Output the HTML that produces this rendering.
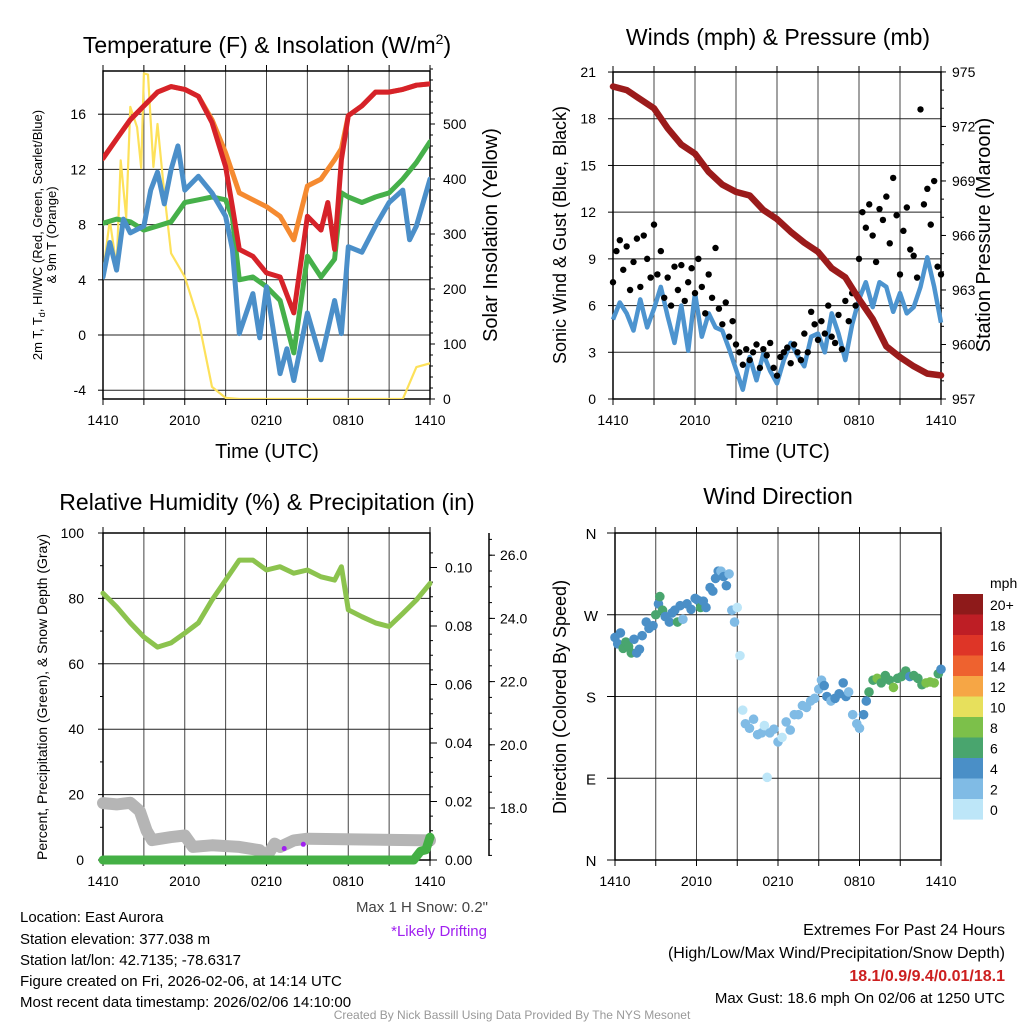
<!DOCTYPE html>
<html><head><meta charset="utf-8">
<style>
html,body{margin:0;padding:0;background:#fff;}
svg{display:block;font-family:"Liberation Sans",Arial,sans-serif;}
</style></head>
<body>
<svg id="c" width="1024" height="1024" viewBox="0 0 1024 1024">
  <text x="267" y="53" font-size="23" text-anchor="middle">Temperature (F) &amp; Insolation (W/m<tspan font-size="14" dy="-9">2</tspan><tspan dy="9">)</tspan></text>
  <text x="778" y="45" font-size="23" text-anchor="middle">Winds (mph) &amp; Pressure (mb)</text>
  <text x="267" y="510" font-size="23" text-anchor="middle">Relative Humidity (%) &amp; Precipitation (in)</text>
  <text x="778" y="504" font-size="23" text-anchor="middle">Wind Direction</text>

  <text transform="translate(42,235) rotate(-90)" font-size="13" text-anchor="middle">2m T, T<tspan font-size="9" dy="3">d</tspan><tspan dy="-3">, HI/WC (Red, Green, Scarlet/Blue)</tspan></text>
  <text transform="translate(56,235) rotate(-90)" font-size="13" text-anchor="middle">&amp; 9m T (Orange)</text>
  <text transform="translate(497,235) rotate(-90)" font-size="20" text-anchor="middle">Solar Insolation (Yellow)</text>
  <text x="267" y="458" font-size="20" text-anchor="middle">Time (UTC)</text>
  <text transform="translate(566,235) rotate(-90)" font-size="18" text-anchor="middle">Sonic Wind &amp; Gust (Blue, Black)</text>
  <text transform="translate(990,235) rotate(-90)" font-size="20" text-anchor="middle">Station Pressure (Maroon)</text>
  <text x="778" y="458" font-size="20" text-anchor="middle">Time (UTC)</text>
  <text transform="translate(47,697) rotate(-90)" font-size="14" text-anchor="middle">Percent, Precipitation (Green), &amp; Snow Depth (Gray)</text>
  <text transform="translate(566,697) rotate(-90)" font-size="18" text-anchor="middle">Direction (Colored By Speed)</text>

  <g font-size="15">
    <text x="20" y="922">Location: East Aurora</text>
    <text x="20" y="944">Station elevation: 377.038 m</text>
    <text x="20" y="965">Station lat/lon: 42.7135; -78.6317</text>
    <text x="20" y="986">Figure created on Fri, 2026-02-06, at 14:14 UTC</text>
    <text x="20" y="1007">Most recent data timestamp: 2026/02/06 14:10:00</text>
  </g>
  <text x="488" y="912" font-size="15" text-anchor="end" fill="#444">Max 1 H Snow: 0.2"</text>
  <text x="487" y="936" font-size="15" text-anchor="end" fill="#a020f0">*Likely Drifting</text>
  <g font-size="16" text-anchor="end">
    <text x="1005" y="935">Extremes For Past 24 Hours</text>
    <text x="1005" y="958">(High/Low/Max Wind/Precipitation/Snow Depth)</text>
    <text x="1005" y="981" fill="#cc1f1f" font-weight="bold">18.1/0.9/9.4/0.01/18.1</text>
    <text x="1005" y="1003" font-size="15">Max Gust: 18.6 mph On 02/06 at 1250 UTC</text>
  </g>
  <text x="512" y="1019" font-size="12" text-anchor="middle" fill="#999">Created By Nick Bassill Using Data Provided By The NYS Mesonet</text>
  <g id="layer"></g>
</svg>
<script>
const xTickHours = [0, 6, 12, 18, 24];
const xTickLabels = ["1410", "2010", "0210", "0810", "1410"];

const redHours = [0,1,2,3,4,5,6,7,8,9,9.5,10,11,12,13,14,15,16,16.5,17,17.5,18,19,20,21,22,23,24];
const redTemp  = [12.8,14.2,15.6,16.6,17.6,18.0,17.8,17.3,15.4,12.2,9.3,6.2,5.7,4.5,4.2,1.6,8.6,7.6,9.6,6.2,12.7,15.9,16.6,17.6,17.6,17.8,18.1,18.2];
const orangeHours = [0,1,2,3,4,5,6,7,8,9,10,11,12,13,14,15,16,17,17.5,18,19,20,21,22,23,24];
const orangeTemp  = [12.8,14.2,15.6,16.6,17.6,18.0,17.8,17.3,15.6,13.2,10.3,9.8,9.3,8.6,6.9,10.8,11.3,12.7,13.5,15.9,16.6,17.6,17.6,17.8,18.1,18.2];
const greenHours = [0,1,2,3,4,5,6,7,8,9,9.5,10,11,12,13,14,15,16,17,17.5,18,19,20,21,22,23,24];
const greenTemp  = [8.1,8.4,8.2,7.6,7.9,8.2,9.6,9.8,10.0,9.8,8.5,4.0,4.2,3.5,2.5,-1.3,5.7,4.2,5.5,10.3,10.0,9.6,10.0,10.3,11.3,12.5,14.0];
const blueHours = [0,0.5,1,1.5,2,3,3.5,4,4.5,5,5.5,6,7,8,9,9.5,10,11,11.5,12,13,13.5,14,15,16,17,17.5,18,19,20,21,22,22.5,23,24];
const blueTemp  = [4.2,6.7,4.7,8.4,7.4,7.9,10.5,11.8,9.5,12.0,13.7,10.5,11.5,10.3,8.6,6.2,0.1,3.0,-0.2,3.5,-2.8,-1.0,-3.3,1.6,-1.8,2.5,0.1,6.4,6.0,7.9,9.6,10.5,6.9,7.9,11.3];
const solarHours = [0,0.5,1,1.3,1.7,2,2.5,2.8,3,3.3,3.7,4,4.5,5,6,7,8,9,10,22,23,24];
const solarVals  = [229,325,240,434,330,531,494,420,592,590,422,500,374,265,222,144,22,2,0,0,58,65];
const tempTicks = [16,12,8,4,0,-4];
const solarTicks = [0,100,200,300,400,500];

const pressHours = [0,1,2,3,4,5,6,7,8,9,10,11,12,13,14,15,16,17,18,19,20,21,22,23,24];
const pressVals  = [974.2,974.0,973.5,973.0,971.9,971.0,970.5,969.5,968.8,968.4,968.2,967.4,966.9,966.2,965.6,965.1,964.2,963.7,962.5,961.4,959.9,959.3,958.8,958.4,958.3];
const windHours = [0,0.5,1,1.5,2,2.5,3,3.5,4,4.5,5,5.5,6,6.5,7,7.5,8,8.5,9,9.5,10,10.5,11,11.5,12,12.5,13,13.5,14,14.5,15,15.5,16,16.5,17,17.5,18,18.5,19,19.5,20,20.5,21,21.5,22,22.5,23,23.5,24];
const windVals  = [5.1,6.2,5.5,4.4,6.4,4.6,5.8,7.2,5.3,3.6,6.0,3.1,6.8,4.0,5.5,4.6,4.4,3.2,1.9,0.6,2.7,1.2,2.9,1.8,1.0,2.5,3.6,2.8,2.1,4.0,4.2,3.0,5.5,4.2,2.5,4.8,6.4,7.5,5.9,7.5,7.2,5.6,6.8,5.5,5.9,7.2,9.1,7.2,4.9];
const gustVals = [7.5,9.5,10.2,8.3, 9.8,7.0,8.8,10.3, 7.2,10.5,9.0,7.8, 11.2,8.0,9.5,6.5, 7.8,6.0,8.5,7.0, 8.6,6.3,7.5,8.4, 6.8,9.0,7.2,5.5, 8.0,6.5,9.7,5.8, 4.8,6.2,4.0,5.0, 3.5,3.0,2.2,3.2, 2.5,3.0,3.5,2.0, 3.2,2.8,3.6,2.0, 1.5,2.7,3.0,3.3, 2.3,3.5,3.0,2.5, 4.2,3.0,5.6,4.8, 3.8,5.0,4.2,6.0, 4.0,3.6,5.4,3.2, 6.3,5.0,6.8,6.0, 9.0,12.0,11.0,12.5, 10.5,8.8,12.2,11.5, 13.0,10.0,14.2,11.8, 8.0,10.8,12.3,9.6, 9.2,7.8,18.6,12.5, 13.5,11.2,14.0,8.5, 8.0];
const windTicks = [0,3,6,9,12,15,18,21];
const pressTicks = [957,960,963,966,969,972,975];

const rhHours = [0,1,2,3,4,5,6,7,8,9,10,11,12,13,14,15,16,17,17.5,18,19,20,21,22,23,24];
const rhVals  = [81.6,77.4,72.5,68.2,65.1,66.4,69.4,72.5,79.5,85.6,91.7,91.7,88.7,89.7,87.7,88.7,86.6,85.6,89.7,76.5,74.4,72.5,71.4,75.4,79.5,84.6];
const snowHours = [0,1,2,2.7,3.2,3.6,5,6,6.6,8,10,11.5,12,12.6,13,14,15,24];
const snowVals  = [17.4,17.0,17.5,15.0,9.0,6.1,7.0,7.5,4.0,4.5,4.0,3.0,1.0,5.0,4.0,6.0,6.5,6.0];
const precipHours = [0,22.8,23.3,23.7,24];
const precipVals  = [0,0,0.003,0.0035,0.0078];
const driftHours = [13.3,14.7];
const driftVals = [3.5,4.8];
const rhTicks = [0,20,40,60,80,100];
const precipTicks = [0,0.02,0.04,0.06,0.08,0.10];
const snowTicks = [18,20,22,24,26];

const dirHours = [0,0.2,0.4,0.6,0.8,1,1.2,1.4,1.6,1.8,2,2.3,2.5,2.8,3,3.2,3.3,3.5,3.7,4,4.2,4.4,4.6,4.8,5,5.3,5.6,5.9,6.1,6.3,6.5,6.7,7,7.2,7.4,7.6,7.8,8,8.2,8.4,8.6,8.8,9,9.2,9.4,9.6,9.9,10.2,10.5,10.8,11,11.2,11.4,11.7,12,12.3,12.6,12.9,13.2,13.5,13.8,14.1,14.4,14.7,15,15.2,15.4,15.6,15.9,16.2,16.5,16.8,17,17.2,17.5,17.8,18,18.3,18.5,18.7,19,19.3,19.6,19.9,20.2,20.5,20.8,21.1,21.4,21.7,22,22.3,22.6,22.9,23.2,23.5,23.8,24];
const dirDeg = [245,238,250,233,240,235,228,243,228,232,247,262,255,258,270,282,290,275,268,262,272,275,262,280,265,282,276,288,286,278,285,278,300,296,310,318,318,312,302,315,275,262,278,225,165,150,145,155,138,140,148,91,140,144,130,135,152,143,160,160,170,168,175,178,188,198,192,180,175,178,183,195,180,185,160,150,145,160,175,185,198,200,195,203,198,190,200,202,208,202,203,200,193,195,196,195,205,210];
const dirSpeed = [5,5,5,7,7,7,7,5,5,5,5,5,5,5,7,5,7,7,5,5,5,5,7,5,3,5,5,5,5,7,5,5,5,5,5,5,3,5,5,3,3,3,1,1,1,3,3,3,3,3,1,1,3,3,3,1,3,3,3,3,3,3,3,3,3,3,5,5,3,5,5,5,5,3,3,3,3,5,5,7,7,9,7,7,7,9,7,7,7,5,7,7,7,9,9,9,7,5];
const speedLabels = ["20+","18","16","14","12","10","8","6","4","2","0"];
const speedColors = ["#8e1a1a","#be1e25","#de3527","#ee622f","#f6a645","#e7e05c","#7cc04a","#49a56e","#4a8fc7","#80bbe5","#bde6f8"];
const dirTickDeg = [360,270,180,90,0];
const dirTickLabels = ["N","W","S","E","N"];

const NS = "http://www.w3.org/2000/svg";
const layer = document.getElementById("layer");
function mk(tag, attrs, parent) {
  const e = document.createElementNS(NS, tag);
  for (const k in attrs) e.setAttribute(k, attrs[k]);
  (parent || layer).appendChild(e);
  return e;
}
function group(name) {
  const g = mk("g", {});
  
  
  return g;
}
function pathFrom(hs, vs, xf, yf) {
  return hs.map((h, i) => (i ? "L" : "M") + xf(h).toFixed(1) + "," + yf(vs[i]).toFixed(1)).join("");
}
function txt(g, x, y, s, size, anchor, fill) {
  const t = mk("text", {x: x, y: y, "font-size": size, "text-anchor": anchor || "start", fill: fill || "#000"}, g);
  t.textContent = s;
  return t;
}
function frameAndGrid(name, x0, x1, y0, y1, yLines) {
  const g = group(name);
  const xs = h => x0 + (x1 - x0) * h / 24;
  for (let h = 3; h < 24; h += 3) mk("line", {x1: xs(h), x2: xs(h), y1: y0, y2: y1, stroke: "#444", "stroke-width": 1}, g);
  yLines.forEach(y => mk("line", {x1: x0, x2: x1, y1: y, y2: y, stroke: "#222", "stroke-width": 1}, g));
  mk("rect", {x: x0, y: y0, width: x1 - x0, height: y1 - y0, fill: "none", stroke: "#000", "stroke-width": 1.5}, g);
  for (let h = 0; h <= 24; h += 3) mk("line", {x1: xs(h), x2: xs(h), y1: y1, y2: y1 + 6, stroke: "#000"}, g);
  for (let h = 0; h <= 24; h += 3) mk("line", {x1: xs(h), x2: xs(h), y1: y0, y2: y0 - 6, stroke: "#000"}, g);
  const gl = group(name + "-x-tick-labels");
  xTickHours.forEach((h, i) => txt(gl, xs(h), y1 + 26, xTickLabels[i], 14, "middle"));
  return xs;
}

(function () {
  const x0 = 103, x1 = 430, y0 = 71, y1 = 399;
  const ty = v => 335 - 13.8 * v;
  const sy = v => 399 - 0.55 * v;
  const xs = frameAndGrid("temperature-plot-grid", x0, x1, y0, y1, tempTicks.map(ty));
  const ga = group("temperature-y-axis");
  tempTicks.forEach(v => { txt(ga, 86, ty(v) + 5, String(v), 14, "end"); mk("line", {x1: x0 - 5, x2: x0, y1: ty(v), y2: ty(v), stroke: "#000"}, ga); });
  const gb = group("insolation-y-axis");
  solarTicks.forEach(v => { txt(gb, 443, sy(v) + 5, String(v), 14, "start"); mk("line", {x1: x1, x2: x1 + 5, y1: sy(v), y2: sy(v), stroke: "#000"}, gb); });
  for (let v = 0; v <= 600; v += 20) mk("line", {x1: x1, x2: x1 + 3, y1: sy(v), y2: sy(v), stroke: "#000"}, gb);
  const clip = mk("clipPath", {id: "c1"}); mk("rect", {x: x0, y: y0, width: x1 - x0, height: y1 - y0}, clip);
  const s = [
    ["solar-insolation-line", solarHours, solarVals, sy, "#fde15a", 2.2],
    ["temperature-9m-orange-line", orangeHours, orangeTemp, ty, "#f58a30", 5],
    ["dewpoint-green-line", greenHours, greenTemp, ty, "#46b04a", 5],
    ["windchill-blue-line", blueHours, blueTemp, ty, "#4b8fc9", 5],
    ["temperature-2m-red-line", redHours, redTemp, ty, "#d62229", 5]
  ];
  s.forEach(([n, hs, vs, yf, c, w]) => {
    const p = mk("path", {d: pathFrom(hs, vs, xs, yf), fill: "none", stroke: c, "stroke-width": w, "stroke-linejoin": "round", "stroke-linecap": "round", "clip-path": "url(#c1)"});
    
    
  });
})();

(function () {
  const x0 = 613, x1 = 941, y0 = 72, y1 = 399;
  const wy = v => 399 - 15.57 * v;
  const py = v => 399 - 18.17 * (v - 957);
  const xs = frameAndGrid("winds-plot-grid", x0, x1, y0, y1, windTicks.map(wy));
  const ga = group("wind-y-axis");
  windTicks.forEach(v => { txt(ga, 596, wy(v) + 5, String(v), 14, "end"); mk("line", {x1: x0 - 5, x2: x0, y1: wy(v), y2: wy(v), stroke: "#000"}, ga); });
  const gb = group("pressure-y-axis");
  pressTicks.forEach(v => { txt(gb, 952, py(v) + 5, String(v), 14, "start"); mk("line", {x1: x1, x2: x1 + 5, y1: py(v), y2: py(v), stroke: "#000"}, gb); });
  for (let v = 957; v <= 975; v += 1) mk("line", {x1: x1, x2: x1 + 3, y1: py(v), y2: py(v), stroke: "#000"}, gb);
  const p1 = mk("path", {d: pathFrom(windHours, windVals, xs, wy), fill: "none", stroke: "#4d94cf", "stroke-width": 4.5, "stroke-linejoin": "round"});
  
  
  const gg = group("gust-points");
  gustVals.forEach((v, i) => {
    const c = mk("circle", {cx: xs(i / 4), cy: wy(v), r: 3.2, fill: "#000"}, gg);
    
    
  });
  const p2 = mk("path", {d: pathFrom(pressHours, pressVals, xs, py), fill: "none", stroke: "#9b1b1b", "stroke-width": 6.5, "stroke-linejoin": "round", "stroke-linecap": "round"});
  
  
})();

(function () {
  const x0 = 103, x1 = 430, y0 = 533, y1 = 860;
  const ry = v => 860 - 3.27 * v;
  const py = v => 860 - 2925 * v;
  const sny = v => 808 - 31.6 * (v - 18);
  const xs = frameAndGrid("humidity-plot-grid", x0, x1, y0, y1, rhTicks.map(ry));
  const ga = group("humidity-y-axis");
  rhTicks.forEach(v => { txt(ga, 84, ry(v) + 5, String(v), 14, "end"); mk("line", {x1: x0 - 5, x2: x0, y1: ry(v), y2: ry(v), stroke: "#000"}, ga); });
  for (let v = 10; v < 100; v += 20) mk("line", {x1: x0 - 3, x2: x0, y1: ry(v), y2: ry(v), stroke: "#000"}, ga);
  const gb = group("precip-y-axis");
  precipTicks.forEach(v => { txt(gb, 445, py(v) + 5, v.toFixed(2), 14, "start"); mk("line", {x1: x1, x2: x1 + 7, y1: py(v), y2: py(v), stroke: "#000"}, gb); });
  for (let v = 0; v <= 0.11; v += 0.005) mk("line", {x1: x1, x2: x1 + 3, y1: py(v), y2: py(v), stroke: "#000"}, gb);
  const gc = group("snow-depth-y-axis");
  mk("line", {x1: 489, x2: 489, y1: 533, y2: 856, stroke: "#000", "stroke-width": 1.5}, gc);
  snowTicks.forEach(v => { txt(gc, 500, sny(v) + 5, v.toFixed(1), 14, "start"); mk("line", {x1: 489, x2: 495, y1: sny(v), y2: sny(v), stroke: "#000"}, gc); });
  for (let v = 16.5; v <= 26.5; v += 0.5) { const y = sny(v); if (y > 533 && y < 856) mk("line", {x1: 489, x2: 492, y1: y, y2: y, stroke: "#000"}, gc); }
  const clip = mk("clipPath", {id: "c3"}); mk("rect", {x: x0 - 8, y: y0, width: x1 - x0 + 16, height: y1 - y0 + 8}, clip);
  const g1 = mk("path", {d: pathFrom(snowHours, snowVals, xs, ry), fill: "none", stroke: "#b5b5b5", "stroke-width": 12, "stroke-linejoin": "round", "stroke-linecap": "round", "clip-path": "url(#c3)"});
  
  
  const gd = group("drifting-markers");
  driftHours.forEach((h, i) => mk("circle", {cx: xs(h), cy: ry(driftVals[i]), r: 2.5, fill: "#a020f0"}, gd));
  const g2 = mk("path", {d: pathFrom(precipHours, precipVals, xs, py), fill: "none", stroke: "#44b045", "stroke-width": 9, "stroke-linejoin": "round", "stroke-linecap": "round"});
  
  
  const g3 = mk("path", {d: pathFrom(rhHours, rhVals, xs, ry), fill: "none", stroke: "#8cc34e", "stroke-width": 5, "stroke-linejoin": "round", "stroke-linecap": "round"});
  
  
})();

(function () {
  const x0 = 615, x1 = 941, y0 = 533, y1 = 860;
  const dy = d => 860 - d * 327 / 360;
  const xs = frameAndGrid("direction-plot-grid", x0, x1, y0, y1, dirTickDeg.map(dy));
  const ga = group("direction-y-axis");
  dirTickDeg.forEach((d, i) => { txt(ga, 591, dy(d) + 6, dirTickLabels[i], 15, "middle"); mk("line", {x1: x0 - 8, x2: x0, y1: dy(d), y2: dy(d), stroke: "#000"}, ga); });
  function colorFor(s) { let idx = Math.min(10, Math.floor(s / 2)); return speedColors[10 - idx]; }
  const gp = group("direction-points");
  dirHours.forEach((h, i) => {
    const c = mk("circle", {cx: xs(h), cy: dy(dirDeg[i]), r: 4.8, fill: colorFor(dirSpeed[i])}, gp);
    
    
  });
  const gl = group("speed-colorbar");
  txt(gl, 990, 588, "mph", 14, "start");
  speedColors.forEach((c, i) => {
    mk("rect", {x: 953, y: 594 + i * 20.5, width: 30, height: 20.6, fill: c}, gl);
    txt(gl, 990, 594 + i * 20.5 + 16, speedLabels[i], 14, "start");
  });
})();
</script>
</body></html>
